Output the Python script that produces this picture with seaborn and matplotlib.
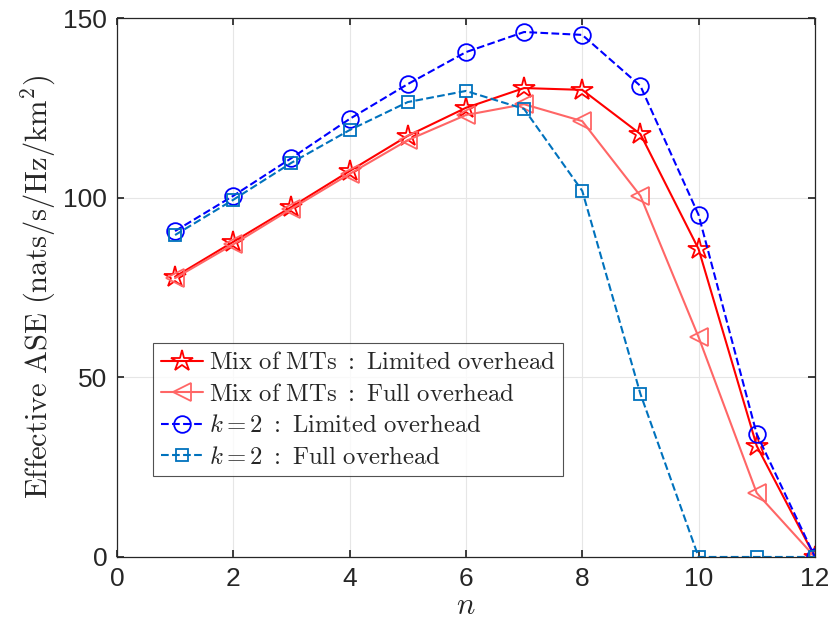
import numpy as np
import pandas as pd
import seaborn as sns
import matplotlib.pyplot as plt

n = list(range(1, 13))
mix_limited = [78, 87.7, 97.4, 107.4, 117.2, 125, 130.5, 130, 117.7, 85.7, 30.9, 0]
mix_full = [77.6, 87, 96.9, 106.6, 116, 123, 126, 121.3, 100.5, 61.2, 17.8, 0]
k2_limited = [90.7, 100.5, 111, 121.9, 131.6, 140.5, 146.1, 145.3, 131.1, 95.2, 34.2, 0]
k2_full = [89.6, 99.4, 109.7, 118.8, 126.6, 129.7, 124.7, 101.9, 45.4, 0, 0, 0]

labels = [r'$\mathrm{Mix\ of\ MTs\ :\ Limited\ overhead}$',
          r'$\mathrm{Mix\ of\ MTs\ :\ Full\ overhead}$',
          r'$k=2\mathrm{\ :\ Limited\ overhead}$',
          r'$k=2\mathrm{\ :\ Full\ overhead}$']

sns.set_theme(style="ticks")
plt.rcParams['font.family'] = ['Liberation Sans', 'DejaVu Sans']
plt.rcParams['mathtext.fontset'] = 'cm'

fig = plt.figure(figsize=(8.29, 6.34), dpi=100)
ax = fig.add_axes([0.141, 0.1215, 0.842, 0.8501])

series = [
    (mix_limited, '#ff0000', '*', '-', 16),
    (mix_full, '#ff6666', '<', '-', 13),
    (k2_limited, '#0000ff', 'o', '--', 12),
    (k2_full, '#0072bd', 's', '--', 8),
]
for (vals, col, mk, ls, ms), lab in zip(series, labels):
    df = pd.DataFrame({'n': n, 'ase': vals})
    sns.lineplot(data=df, x='n', y='ase', ax=ax, color=col, marker=mk,
                 linestyle=ls, markersize=ms, markerfacecolor='none',
                 markeredgecolor=col, markeredgewidth=1.3, linewidth=1.5,
                 label=lab)

ax.set_xlim(0, 12)
ax.set_ylim(0, 150)
ax.set_xticks(range(0, 13, 2))
ax.set_yticks([0, 50, 100, 150])
ax.grid(True, color='#e6e6e6', linewidth=0.8)
ax.set_axisbelow(True)
for s in ax.spines.values():
    s.set_visible(True)
    s.set_color('#262626')
    s.set_linewidth(0.9)
ax.tick_params(direction='in', labelsize=19, colors='#262626', length=5,
               top=True, right=True, pad=7)
ax.set_xlabel(r'$n$', fontsize=22, labelpad=0)
ax.set_ylabel(r'$\mathrm{Effective\ ASE\ (nats/s/Hz/km^2)}$', fontsize=22, labelpad=4)

leg = ax.legend(loc='lower left', bbox_to_anchor=(0.052, 0.150), fontsize=17.8,
                frameon=True, fancybox=False, edgecolor='#262626',
                handlelength=1.7, handletextpad=0.25, borderpad=0.3,
                labelspacing=0.3, borderaxespad=0)
leg.get_frame().set_linewidth(0.8)

fig.savefig('out.png', dpi=100)
